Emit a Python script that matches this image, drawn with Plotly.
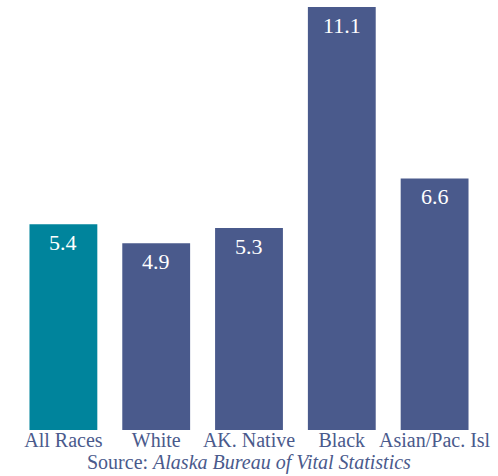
import plotly.graph_objects as go

categories = ["All Races", "White", "AK. Native", "Black", "Asian/Pac. Isl"]
values = [5.4, 4.9, 5.3, 11.1, 6.6]
value_labels = ["5.4", "4.9", "5.3", "11.1", "6.6"]
bar_colors = ["#00849c", "#4a5a8c", "#4a5a8c", "#4a5a8c", "#4a5a8c"]

FONT = "Liberation Serif, Times New Roman, serif"
TEXT_COLOR = "#4a5a8c"

fig = go.Figure(
    go.Bar(
        x=categories,
        y=values,
        marker=dict(color=bar_colors, line=dict(width=0)),
        hoverinfo="skip",
    )
)

for c, v, lab in zip(categories, values, value_labels):
    fig.add_annotation(
        x=c, y=v, text=lab, showarrow=False, yanchor="top", yshift=-4,
        font=dict(family=FONT, size=22, color="white"),
    )

fig.add_annotation(
    xref="paper", yref="paper", x=0.5, y=0, yshift=-46, yanchor="bottom",
    text="Source: <i>Alaska Bureau of Vital Statistics</i>", showarrow=False,
    font=dict(family=FONT, size=20, color=TEXT_COLOR),
)

fig.update_layout(
    width=498, height=476,
    margin=dict(l=16.5, r=16.5, t=0, b=46),
    paper_bgcolor="white", plot_bgcolor="white",
    bargap=0.269,
    showlegend=False,
    xaxis=dict(
        showgrid=False, showline=False, zeroline=False, ticks="",
        ticklabelstandoff=-4,
        tickfont=dict(family=FONT, size=20, color=TEXT_COLOR),
        fixedrange=True,
    ),
    yaxis=dict(
        range=[0, 11.284], visible=False, fixedrange=True,
    ),
)

fig.write_html("out.html")
